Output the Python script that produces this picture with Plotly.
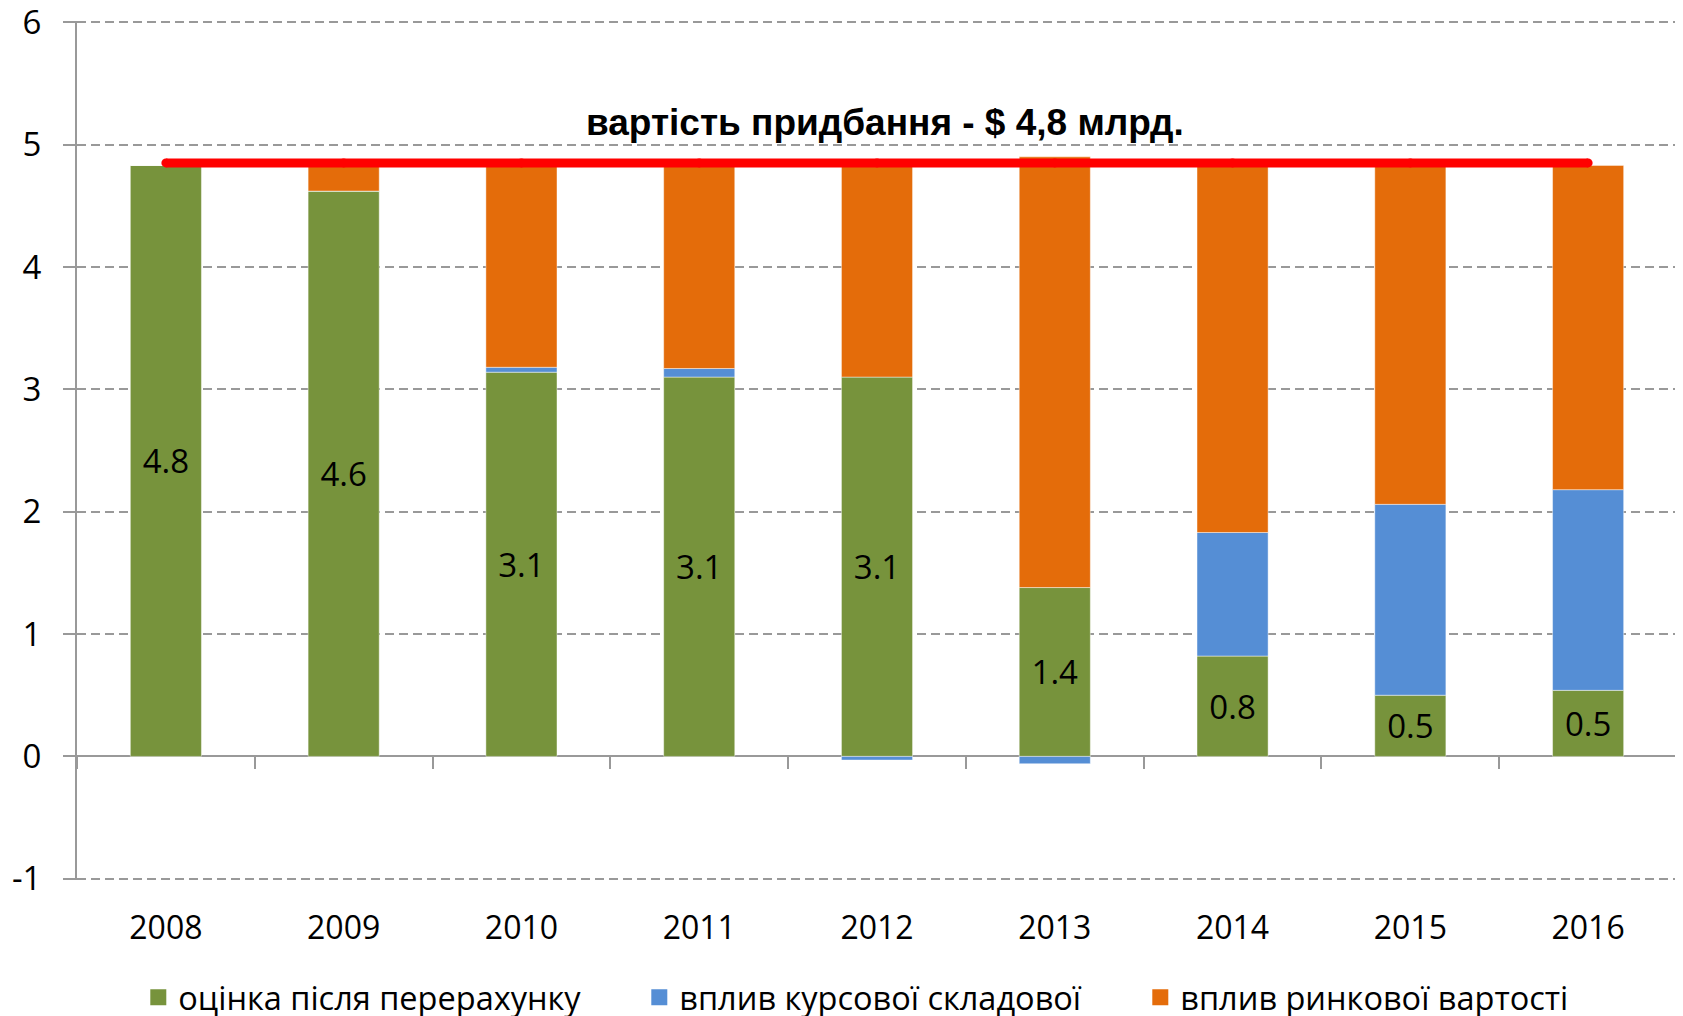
import plotly.graph_objects as go

years = ["2008", "2009", "2010", "2011", "2012", "2013", "2014", "2015", "2016"]
recalc = [4.83, 4.62, 3.14, 3.10, 3.10, 1.38, 0.82, 0.50, 0.54]
fx_effect = [0.0, 0.0, 0.04, 0.07, -0.03, -0.06, 1.01, 1.56, 1.64]
market_effect = [0.0, 0.21, 1.65, 1.66, 1.73, 3.52, 3.00, 2.77, 2.65]
acq_cost = [4.85] * 9

y_tickvals = [-1, 0, 1, 2, 3, 4, 5, 6]
y_ticktext = ["-1", "0", "1", "2", "3", "4", "5", "6"]

names = ["оцінка після перерахунку", "вплив курсової складової", "вплив ринкової вартості"]
colors = ["#77933C", "#558ED5", "#E46C0A"]
title_text = "вартість придбання - $ 4,8 млрд."

FONT = "Open Sans"
GRID = "#999999"

fig = go.Figure()
series = [recalc, fx_effect, market_effect]
for i, vals in enumerate(series):
    fig.add_trace(go.Bar(
        x=years, y=vals, name=names[i], width=0.4,
        marker=dict(color=colors[i], line=dict(color="rgba(255,255,255,0.45)", width=1)),
        text=[f"{v:.1f}" for v in vals] if i == 0 else None,
        textposition="inside" if i == 0 else "none",
        insidetextanchor="middle",
        textfont=dict(family=FONT, size=33, color="black"),
        textangle=0,
        showlegend=False,
        hoverinfo="x+y+name",
    ))

# legend entries
for i in range(3):
    fig.add_trace(go.Scatter(
        x=[None], y=[None], mode="markers", name=names[i],
        marker=dict(symbol="square", size=20, color=colors[i]),
        showlegend=True,
    ))

# acquisition cost line
fig.add_trace(go.Scatter(
    x=years, y=acq_cost, mode="lines+markers", xaxis="x2",
    line=dict(color="#FF0000", width=9),
    marker=dict(color="#FF0000", size=9, line=dict(width=0)),
    showlegend=False, hoverinfo="y",
))

fig.add_annotation(
    text=title_text, xref="paper", yref="y", x=0.505, y=5.18,
    showarrow=False, font=dict(family="Liberation Sans", size=37, color="black", weight="bold"),
)

fig.update_layout(
    width=1675, height=1008,
    margin=dict(l=69, r=6, t=13, b=136, autoexpand=False),
    paper_bgcolor="white", plot_bgcolor="white",
    barmode="relative", bargap=0.6,
    font=dict(family=FONT, color="black"),
    legend=dict(orientation="h", x=0.508, xanchor="center",
                y=-0.1368, yanchor="middle",
                font=dict(family=FONT, size=32.5, color="black"), entrywidth=456,
                itemsizing="trace"),
    xaxis=dict(type="category", categoryorder="array", categoryarray=years,
               range=[-0.5, 8.5], showgrid=False, showline=False, ticks="",
               tickfont=dict(family=FONT, size=32, color="black"),
               ticklabelstandoff=26, zeroline=False, automargin=False),
    xaxis2=dict(type="category", categoryorder="array", categoryarray=years,
                range=[-0.5, 8.5], overlaying="x", anchor="free", position=1.01/7.02,
                side="bottom", showgrid=False, showline=False, showticklabels=False,
                ticks="outside", tickson="boundaries", ticklen=12, tickwidth=2,
                tickcolor=GRID, zeroline=False, automargin=False),
    yaxis=dict(range=[-1.01, 6.01], tickmode="array", tickvals=y_tickvals, ticktext=y_ticktext,
               showgrid=True, gridcolor=GRID,
               griddash="9px,5px", gridwidth=2, zeroline=True, zerolinecolor=GRID,
               zerolinewidth=2, showline=True, linecolor=GRID, linewidth=2,
               ticks="outside", ticklen=12, tickwidth=2, tickcolor=GRID,
               tickfont=dict(family=FONT, size=33, color="black"),
               ticklabelstandoff=15, ticklabeloverflow="allow", automargin=False),
)

fig.write_html("out.html")
